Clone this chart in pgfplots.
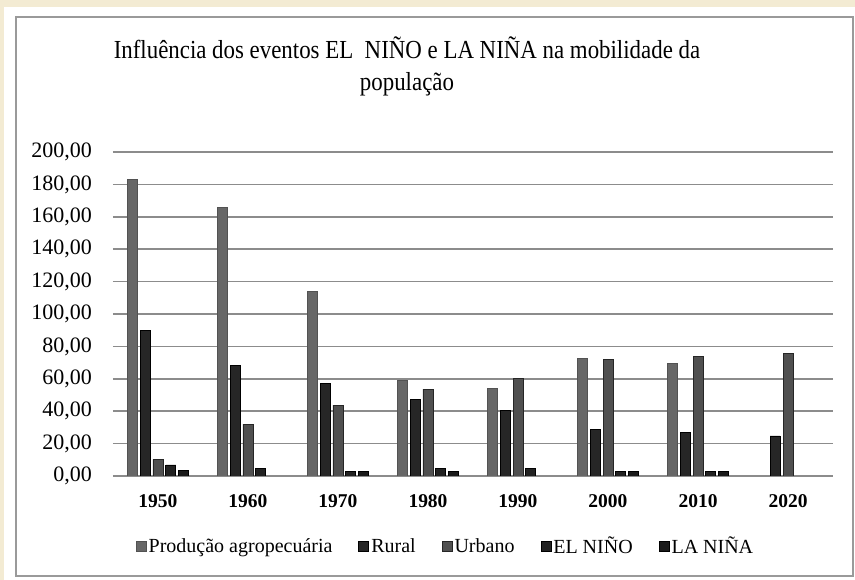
\documentclass[border=0pt]{standalone}
\usepackage{fontspec}
\setmainfont{Liberation Serif}
\newfontfamily\titlefont{Liberation Serif}[FakeStretch=0.88]
\usepackage{pgfplots}
\pgfplotsset{compat=1.18}

\definecolor{cream}{HTML}{F3EBD3}
\definecolor{frame}{HTML}{9A9A9A}
\definecolor{gridc}{HTML}{8C8C8C}
\definecolor{cprod}{HTML}{676767}
\definecolor{crural}{HTML}{262626}
\definecolor{curb}{HTML}{505050}
\definecolor{celn}{HTML}{222222}
\definecolor{clan}{HTML}{1A1A1A}

\begin{document}
\begin{tikzpicture}[x=1pt,y=1pt]
\useasboundingbox (0,0) rectangle (855,580);
\fill[cream] (0,0) rectangle (855,580);
\fill[white] (4,0) rectangle (855,573);
\draw[frame, line width=1.6pt] (15.8,4) rectangle (853,563);

\begin{axis}[
    at={(113pt,104pt)}, anchor=south west,
    scale only axis,
    width=720pt, height=324pt,
    ybar=2.8pt, bar width=10pt,
    xmin=-0.5, xmax=7.5,
    ymin=0, ymax=200,
    ytick={0,20,...,200},
    xtick={0,...,7},
    xticklabels={1950,1960,1970,1980,1990,2000,2010,2020},
    axis line style={draw=none},
    major tick length=0pt,
    ymajorgrids,
    grid style={gridc, line width=1.5pt},
    /pgf/number format/assume math mode=true,
    yticklabel={\pgfmathprintnumber[fixed, fixed zerofill, precision=2, use comma, 1000 sep={}]{\tick}},
    yticklabel style={font=\fontsize{22}{22}\selectfont, anchor=east, inner sep=0pt, xshift=-21pt},
    xticklabel style={font=\fontsize{19.5}{19.5}\selectfont\bfseries, anchor=north, inner sep=0pt, yshift=-18pt},
    legend columns=5,
    legend style={draw=none, fill=none, font=\fontsize{20}{20}\selectfont,
        at={(0.462,-0.216)}, anchor=center,
        /tikz/every even column/.append style={column sep=24pt}},
    legend image code/.code={\fill[#1] (0pt,-5pt) rectangle (10pt,5pt);},
]
\addplot[fill=cprod, draw=cprod!80!black, line width=0.6pt] coordinates {
(0,183) (1,166) (2,114) (3,59) (4,54) (5,72.6) (6,69.5)
};
\addlegendentry{Produção agropecuária}
\addplot[fill=crural, draw=black, line width=0.8pt] coordinates {
(0,90) (1,68.5) (2,57) (3,47.5) (4,40.5) (5,28.8) (6,26.7) (7,24.7)
};
\addlegendentry{Rural}
\addplot[fill=curb, draw=black!85, line width=0.8pt] coordinates {
(0,10.3) (1,32) (2,43.8) (3,53.7) (4,60.3) (5,72) (6,73.7) (7,75.7)
};
\addlegendentry{Urbano}
\addplot[fill=celn, draw=black, line width=0.8pt] coordinates {
(0,6.8) (1,4.7) (2,3) (3,4.7) (4,4.7) (5,3) (6,3)
};
\addlegendentry{EL NIÑO}
\addplot[fill=clan, draw=black, line width=0.8pt] coordinates {
(0,3.3) (2,3) (3,3) (5,3) (6,3)
};
\addlegendentry{LA NIÑA}
\end{axis}

\node[align=center, font=\titlefont\fontsize{26}{32}\selectfont, inner sep=0pt] at (407,514)
  {Influência dos eventos EL\ \ NIÑO e LA NIÑA na mobilidade da\\população};
\end{tikzpicture}
\end{document}
